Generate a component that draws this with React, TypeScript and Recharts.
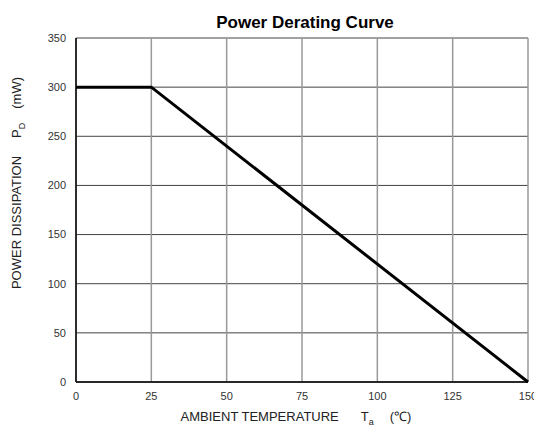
import React from 'react';
import { LineChart, Line, XAxis, YAxis, CartesianGrid } from 'recharts';

const temperatures = [0, 25, 150];
const powerValues = [300, 300, 0];
const xTicks = [0, 25, 50, 75, 100, 125, 150];
const yTicks = [0, 50, 100, 150, 200, 250, 300, 350];

const data = temperatures.map((t, i) => ({ t, p: powerValues[i] }));

const font = '"Liberation Sans", Arial, sans-serif';

const XLabel = () => (
  <text x={296} y={421} textAnchor="middle" fontFamily={font} fontSize={13} fill="#222">
    <tspan>AMBIENT TEMPERATURE</tspan>
    <tspan dx={22}>T</tspan>
    <tspan dy={4} fontSize={9}>a</tspan>
    <tspan dy={-4} dx={16}>(℃)</tspan>
  </text>
);

const YLabel = () => (
  <text
    x={0}
    y={0}
    transform="translate(21,183) rotate(-90)"
    textAnchor="middle"
    fontFamily={font}
    fontSize={13}
    fill="#222"
  >
    <tspan>POWER DISSIPATION</tspan>
    <tspan dx={18}>P</tspan>
    <tspan dy={4} fontSize={9}>D</tspan>
    <tspan dy={-4} dx={14}>(mW)</tspan>
  </text>
);

const App: React.FC = () => {
  return (
    <div style={{ position: 'absolute', left: 0, top: 0, width: 534, height: 430, background: '#fff', overflow: 'hidden' }}>
      <svg width={534} height={430} style={{ position: 'absolute', left: 0, top: 0, pointerEvents: 'none' }}>
        <text x={305} y={28} textAnchor="middle" fontFamily={font} fontSize={17} fontWeight="bold" fill="#000">
          Power Derating Curve
        </text>
        <XLabel />
        <YLabel />
      </svg>
      <LineChart
        width={534}
        height={430}
        data={data}
        margin={{ top: 38, right: 6, bottom: 18, left: 46 }}
        style={{ position: 'absolute', left: 0, top: 0 }}
      >
        <CartesianGrid vertical={false} stroke="#444" strokeWidth={1} />
        <CartesianGrid horizontal={false} stroke="#999" strokeWidth={1.5} />
        <XAxis
          dataKey="t"
          type="number"
          domain={[0, 150]}
          ticks={xTicks}
          interval={0}
          tickLine={false}
          axisLine={{ stroke: '#000', strokeWidth: 1.5 }}
          tick={{ fontSize: 11, fill: '#333', fontFamily: font }}
          tickMargin={4}
          height={30}
        />
        <YAxis
          type="number"
          domain={[0, 350]}
          ticks={yTicks}
          interval={0}
          tickLine={false}
          axisLine={{ stroke: '#000', strokeWidth: 1.5 }}
          tick={{ fontSize: 11, fill: '#333', fontFamily: font }}
          tickMargin={4}
          width={30}
        />
        <Line
          dataKey="p"
          stroke="#000"
          strokeWidth={3}
          dot={false}
          isAnimationActive={false}
          type="linear"
        />
      </LineChart>
    </div>
  );
};

export default App;
